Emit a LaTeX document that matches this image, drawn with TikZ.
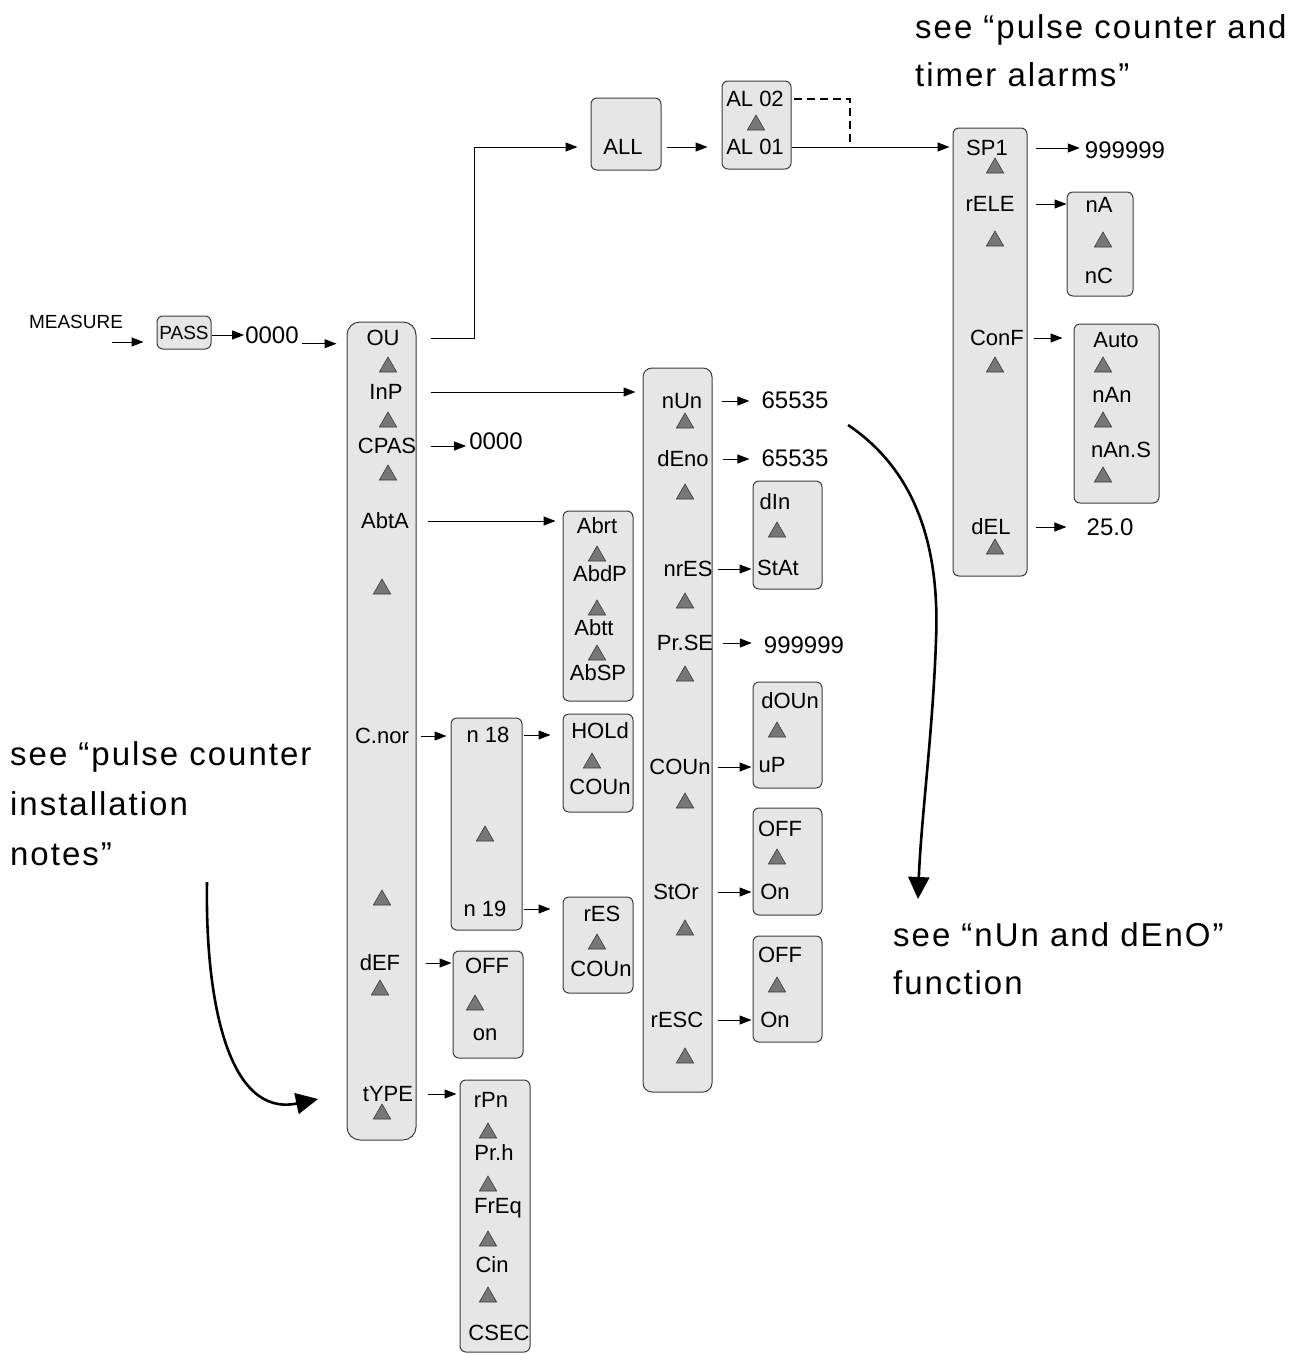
\documentclass[tikz,border=0pt]{standalone}
\usepackage{fontspec}
\setmainfont{Liberation Sans}
\newfontfamily\notefont[LetterSpace=6]{Liberation Sans}
\usetikzlibrary{shapes.geometric,arrows.meta,fit}
\definecolor{boxfill}{HTML}{E6E6E6}
\definecolor{boxline}{HTML}{3C3C3C}
\definecolor{trifill}{HTML}{777777}
\tikzset{
 box/.style={draw=boxline, fill=boxfill, line width=1pt, rounded corners=6pt, inner sep=0pt},
 colbox/.style={box, rounded corners=13pt},
 lbl/.style={font=\fontsize{22}{24}\selectfont, inner sep=0pt},
 small/.style={font=\fontsize{19}{20}\selectfont, inner sep=0pt},
 val/.style={font=\fontsize{24}{26}\selectfont, inner sep=0pt},
 tri/.style={regular polygon, regular polygon sides=3, minimum size=20pt, inner sep=0pt, fill=trifill, draw=boxline, line width=0.6pt},
 arr/.style={-{Triangle[length=12pt,width=9pt]}, line width=1pt},
 note/.style={font=\notefont\fontsize{33}{40}\selectfont, inner sep=0pt, anchor=base west},
 bigarr/.style={-{Triangle[length=22pt,width=21pt]}, line width=2.6pt},
 dashline/.style={dash pattern=on 8pt off 5pt, line width=1.3pt}
}
\begin{document}
\begin{tikzpicture}[x=1pt,y=-1pt]
\useasboundingbox (0,0) rectangle (1305,1354);
% ---------- boxes
\node[box, fit={(157,316) (211,349)}] (passb) {};
\node[colbox, fit={(347,322) (416,1140)}] (colA) {};
\node[box, fit={(591,98) (661,170)}] (allb) {};
\node[box, fit={(722,81) (791,169)}] (alb) {};
\node[box, fit={(953,128) (1027,576)}] (colR) {};
\node[box, fit={(1067,192) (1133,296)}] (nacb) {};
\node[box, fit={(1074,324) (1159,503)}] (autob) {};
\node[box, rounded corners=9pt, fit={(643,368) (712,1092)}] (colB) {};
\node[box, fit={(753,481) (822,589)}] (dinb) {};
\node[box, fit={(753,682) (822,788)}] (doub) {};
\node[box, fit={(753,808) (822,915)}] (ofb1) {};
\node[box, fit={(753,936) (822,1042)}] (ofb2) {};
\node[box, fit={(563,511) (633,701)}] (abrtb) {};
\node[box, fit={(451,718) (522,930)}] (n18b) {};
\node[box, fit={(563,714) (633,812)}] (holdb) {};
\node[box, fit={(563,897) (633,993)}] (resb) {};
\node[box, fit={(453,951) (523,1058)}] (offonb) {};
\node[box, fit={(460,1080) (530,1352)}] (rpnb) {};
% ---------- entry
\node[small] (meas) at (76,322) {MEASURE};
\node[small] (pass) at (184,333) {PASS};
\node[val] (v0) at (272,335) {0000};
\coordinate (mstart) at (112,342);
\draw[arr, shorten >=13pt] (mstart) -- (passb.west |- mstart);
\draw[arr, shorten >=1pt] (passb.east |- v0) -- (v0.west);
\draw[arr, shorten <=3pt, shorten >=10pt] (v0.south east) -- (colA.west |- v0.south east);
% ---------- column A
\node[lbl] (OU) at (383,338) {OU};
\node[tri] (tA1) at (388,367) {};
\node[lbl] (InP) at (386,392) {InP};
\node[tri] (tA2) at (388,422) {};
\node[lbl] (CPAS) at (387,446) {CPAS};
\node[tri] (tA3) at (388,475) {};
\node[lbl] (AbtA) at (385,521) {AbtA};
\node[tri] (tA4) at (382,589) {};
\node[lbl] (Cnor) at (382,736) {C.nor};
\node[tri] (tA5) at (382,900) {};
\node[lbl] (dEF) at (380,963) {dEF};
\node[tri] (tA6) at (380,990) {};
\node[lbl] (tYPE) at (388,1094) {tYPE};
\node[tri] (tA7) at (382,1114) {};
% ---------- top branch
\node[lbl] (ALL) at (623,147) {ALL};
\node[lbl] (AL2) at (755,99) {AL 02};
\node[tri] (tL) at (756,125) {};
\node[lbl] (AL1) at (755,147) {AL 01};
\coordinate (kink) at (474,147);
\draw[arr, shorten <=14pt, shorten >=13pt] (colA.east |- OU) -| (kink) -- (allb.west |- kink);
\draw[arr, shorten <=5pt, shorten >=14pt] (allb.east |- ALL) -- (alb.west |- ALL);
\draw[arr, shorten >=3pt] (alb.east |- AL1) -- (colR.west |- AL1);
\coordinate (dj) at (850,147);
\draw[dashline, shorten <=2pt] (alb.east |- AL2) -| (dj);
% ---------- right column
\node[lbl] (SP1) at (987,148) {SP1};
\node[tri] (tR1) at (995,168) {};
\node[lbl] (rELE) at (990,204) {rELE};
\node[tri] (tR2) at (995,241) {};
\node[lbl] (ConF) at (997,338) {ConF};
\node[tri] (tR3) at (995,367) {};
\node[lbl] (dEL) at (991,527) {dEL};
\node[tri] (tR4) at (995,549) {};
\node[val] (v999b) at (1125,150) {999999};
\node[val] (v25) at (1110,527) {25.0};
\draw[arr, shorten <=8pt, shorten >=5pt] (colR.east |- SP1) -- (v999b.west |- SP1);
\draw[arr, shorten <=8pt] (colR.east |- rELE) -- (nacb.west |- rELE);
\draw[arr, shorten <=6pt, shorten >=11pt] (colR.east |- ConF) -- (autob.west |- ConF);
\draw[arr, shorten <=8pt, shorten >=20pt] (colR.east |- dEL) -- (v25.west);
\node[lbl] (nA) at (1099,205) {nA};
\node[tri] (tc1) at (1103,242) {};
\node[lbl] (nC) at (1099,276) {nC};
\node[lbl] (Auto) at (1116,340) {Auto};
\node[tri] (tu1) at (1103,367) {};
\node[lbl] (nAn) at (1112,395) {nAn};
\node[tri] (tu2) at (1103,422) {};
\node[lbl] (nAnS) at (1121,450) {nAn.S};
\node[tri] (tu3) at (1103,477) {};
% ---------- column B
\node[lbl] (nUn) at (682,401) {nUn};
\node[tri] (tB1) at (685,423) {};
\node[lbl] (dEno) at (683,459) {dEno};
\node[tri] (tB2) at (685,494) {};
\node[lbl] (nrES) at (688,569) {nrES};
\node[tri] (tB3) at (685,603) {};
\node[lbl] (PrSE) at (685,643) {Pr.SE};
\node[tri] (tB4) at (685,676) {};
\node[lbl] (COUnB) at (680,767) {COUn};
\node[tri] (tB5) at (685,803) {};
\node[lbl] (StOr) at (676,892) {StOr};
\node[tri] (tB6) at (685,930) {};
\node[lbl] (rESC) at (677,1020) {rESC};
\node[tri] (tB7) at (685,1058) {};
\draw[arr, shorten <=14pt, shorten >=7pt] (colA.east |- InP) -- (colB.west |- InP);
\node[val] (v65a) at (795,400) {65535};
\node[val] (v65b) at (795,458) {65535};
\node[val] (v99a) at (804,645) {999999};
\node[val] (v0b) at (496,441) {0000};
\draw[arr, shorten <=9pt, shorten >=12pt] (colB.east |- nUn) -- (v65a.west |- nUn);
\draw[arr, shorten <=10pt, shorten >=12pt] (colB.east |- dEno) -- (v65b.west |- dEno);
\draw[arr, shorten <=10pt, shorten >=12pt] (colB.east |- PrSE) -- (v99a.west |- PrSE);
\draw[arr, shorten <=14pt, shorten >=3pt] (colA.east |- CPAS) -- (v0b.west |- CPAS);
\draw[arr, shorten <=5pt, shorten >=1pt] (colB.east |- nrES) -- (dinb.west |- nrES);
\draw[arr, shorten <=5pt, shorten >=1pt] (colB.east |- COUnB) -- (doub.west |- COUnB);
\draw[arr, shorten <=5pt, shorten >=1pt] (colB.east |- StOr) -- (ofb1.west |- StOr);
\draw[arr, shorten <=5pt, shorten >=1pt] (colB.east |- rESC) -- (ofb2.west |- rESC);
\node[lbl] (dIn) at (775,502) {dIn};
\node[tri] (ti1) at (777,532) {};
\node[lbl] (StAt) at (778,568) {StAt};
\node[lbl] (dOUn) at (790,701) {dOUn};
\node[tri] (ti2) at (777,732) {};
\node[lbl] (uP) at (772,765) {uP};
\node[lbl] (OFFa) at (780,829) {OFF};
\node[tri] (ti3) at (777,859) {};
\node[lbl] (Ona) at (775,892) {On};
\node[lbl] (OFFb) at (780,955) {OFF};
\node[tri] (ti4) at (777,987) {};
\node[lbl] (Onb) at (775,1020) {On};
% ---------- middle boxes
\draw[arr, shorten <=11pt, shorten >=7pt] (colA.east |- AbtA) -- (abrtb.west |- AbtA);
\node[lbl] (Abrt) at (597,526) {Abrt};
\node[tri] (ta1) at (597,556) {};
\node[lbl] (AbdP) at (600,574) {AbdP};
\node[tri] (ta2) at (597,610) {};
\node[lbl] (Abtt) at (594,628) {Abtt};
\node[tri] (ta3) at (597,655) {};
\node[lbl] (AbSP) at (598,673) {AbSP};
\draw[arr, shorten <=4pt, shorten >=4pt] (colA.east |- Cnor) -- (n18b.west |- Cnor);
\node[lbl] (n18) at (488,735) {n 18};
\node[tri] (tn) at (485,836) {};
\node[lbl] (n19) at (485,909) {n 19};
\draw[arr, shorten <=1pt, shorten >=12pt] (n18b.east |- n18) -- (holdb.west |- n18);
\draw[arr, shorten <=1pt, shorten >=12pt] (n18b.east |- n19) -- (resb.west |- n19);
\node[lbl] (HOLd) at (600,731) {HOLd};
\node[tri] (th1) at (592,763) {};
\node[lbl] (COUnH) at (600,787) {COUn};
\node[lbl] (rES) at (602,914) {rES};
\node[tri] (th2) at (597,944) {};
\node[lbl] (COUnR) at (601,969) {COUn};
\draw[arr, shorten <=9pt, shorten >=1pt] (colA.east |- dEF) -- (offonb.west |- dEF);
\node[lbl] (OFFc) at (487,966) {OFF};
\node[tri] (to1) at (475,1005) {};
\node[lbl] (onc) at (485,1035) {on};
\draw[arr, shorten <=11pt, shorten >=3pt] (colA.east |- tYPE) -- (rpnb.west |- tYPE);
\node[lbl] (rPn) at (491,1100) {rPn};
\node[tri] (tr1) at (488,1133) {};
\node[lbl] (Prh) at (494,1153) {Pr.h};
\node[tri] (tr2) at (488,1186) {};
\node[lbl] (FrEq) at (498,1208) {FrEq};
\node[tri] (tr3) at (488,1241) {};
\node[lbl] (Cin) at (492,1265) {Cin};
\node[tri] (tr4) at (488,1297) {};
\node[lbl] (CSEC) at (499,1333) {CSEC};
% ---------- notes
\node[note] (na1) at (915,38) {see “pulse counter and};
\node[note] (na2) at (915,86) {timer alarms”};
\node[note] (nb1) at (10,765) {see “pulse counter};
\node[note] (nb2) at (10,815) {installation};
\node[note] (nb3) at (10,865) {notes”};
\node[note] (nc1) at (893,946) {see “nUn and dEnO”};
\node[note] (nc2) at (893,994) {function};
\coordinate (ls) at (207,882);
\coordinate (le) at (318,1099);
\draw[bigarr] (ls) .. controls (205,1000) and (228,1118) .. (le);
\coordinate (rs) at (848,425);
\coordinate (rm) at (936,640);
\coordinate (re) at (918,899);
\draw[bigarr] (rs) .. controls (915,470) and (940,545) .. (rm) .. controls (933,730) and (921,820) .. (re);
\end{tikzpicture}
\end{document}
